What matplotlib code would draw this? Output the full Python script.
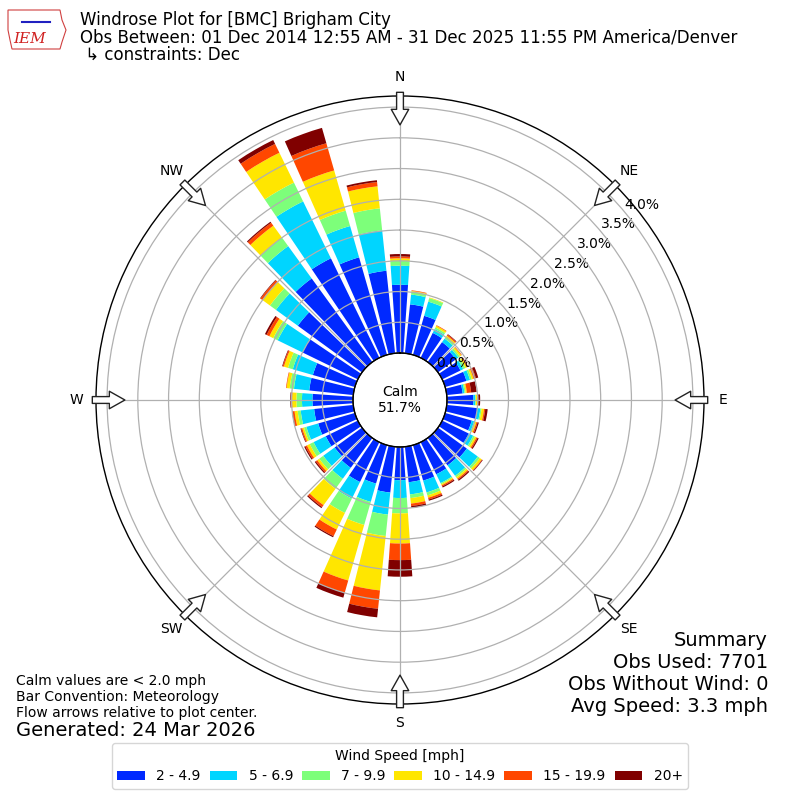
import numpy as np
import matplotlib
matplotlib.use("Agg")
import matplotlib.pyplot as plt
from matplotlib.patches import Patch, Polygon

# ---- data (percent of observations, per direction bin of 10 degrees) ----
directions = np.arange(0, 360, 10)
speed_labels = ["2 - 4.9", "5 - 6.9", "7 - 9.9", "10 - 14.9", "15 - 19.9", "20+"]
pct_2_5 = [1.11, 0.80, 0.66, 0.45, 0.40, 0.36, 0.33, 0.36, 0.26, 0.43, 0.50, 0.45,
           0.48, 0.58, 0.55, 0.58, 0.60, 0.58, 0.54, 0.75, 0.65, 0.72, 0.60, 0.55,
           0.58, 0.62, 0.64, 0.66, 0.72, 0.71, 1.00, 1.29, 1.68, 1.80, 1.65, 1.35]
pct_5_7 = [0.31, 0.16, 0.24, 0.07, 0.07, 0.05, 0.05, 0.06, 0.03, 0.03, 0.05, 0.04,
           0.08, 0.22, 0.21, 0.16, 0.20, 0.20, 0.29, 0.36, 0.31, 0.30, 0.22, 0.23,
           0.22, 0.20, 0.22, 0.17, 0.25, 0.34, 0.45, 0.44, 0.65, 1.03, 0.53, 0.66]
pct_7_10 = [0.08, 0.05, 0.06, 0.03, 0.03, 0.03, 0.04, 0.03, 0.02, 0.01, 0.02, 0.02,
            0.03, 0.04, 0.03, 0.02, 0.05, 0.06, 0.25, 0.35, 0.39, 0.26, 0.20, 0.08,
            0.07, 0.04, 0.05, 0.09, 0.07, 0.08, 0.08, 0.12, 0.17, 0.34, 0.26, 0.36]
pct_10_15 = [0.04, 0.01, 0.01, 0.03, 0.03, 0.03, 0.03, 0.03, 0.02, 0.02, 0.04, 0.02,
             0.03, 0.04, 0.03, 0.02, 0.04, 0.09, 0.49, 0.89, 0.94, 0.30, 0.33, 0.04,
             0.05, 0.03, 0.05, 0.07, 0.05, 0.07, 0.07, 0.15, 0.24, 0.54, 0.68, 0.36]
pct_15_20 = [0.03, 0.01, 0.00, 0.01, 0.02, 0.01, 0.01, 0.04, 0.07, 0.02, 0.02, 0.02,
             0.02, 0.01, 0.02, 0.02, 0.03, 0.04, 0.27, 0.30, 0.21, 0.12, 0.04, 0.03,
             0.03, 0.02, 0.03, 0.02, 0.01, 0.02, 0.05, 0.04, 0.06, 0.16, 0.46, 0.07]
pct_20p = [0.04, 0.00, 0.00, 0.00, 0.01, 0.00, 0.01, 0.04, 0.09, 0.03, 0.04, 0.02,
           0.02, 0.01, 0.02, 0.02, 0.02, 0.03, 0.27, 0.14, 0.08, 0.02, 0.02, 0.02,
           0.02, 0.01, 0.01, 0.01, 0.00, 0.01, 0.03, 0.01, 0.02, 0.07, 0.26, 0.03]
calm_pct = 51.7
rticks = [0.0, 0.5, 1.0, 1.5, 2.0, 2.5, 3.0, 3.5, 4.0]
compass = ["N", "NE", "E", "SE", "S", "SW", "W", "NW"]

series = [pct_2_5, pct_5_7, pct_7_10, pct_10_15, pct_15_20, pct_20p]
colors = plt.cm.jet(np.arange(1, 7) / 6.0)

fig = plt.figure(figsize=(8, 8), dpi=100)
ax = fig.add_axes([0.12, 0.12, 0.76, 0.76], projection="polar")
ax.set_theta_zero_location("N")
ax.set_theta_direction(-1)

rmax = 4.18
ax.set_rorigin(-0.764)
ax.set_ylim(0, rmax)

theta = np.deg2rad(directions)
width = np.deg2rad(10) * 0.8
bottom = np.zeros(len(directions))
for vals, col in zip(series, colors):
    v = np.array(vals)
    ax.bar(theta, v, width=width, bottom=bottom, color=col, edgecolor="none",
           align="center", zorder=1)
    bottom = bottom + v

ax.set_thetagrids(np.arange(0, 360, 45), compass, fontsize=10)
ax.set_rgrids(rticks, labels=[f"{t:.1f}%" for t in rticks], angle=50, fontsize=10)
ax.grid(True, color="#b0b0b0", lw=0.9)
ax.spines["polar"].set_color("black")
ax.spines["polar"].set_linewidth(1.0)

# calm circle
tt = np.linspace(0, 2 * np.pi, 361)
ax.plot(tt, np.zeros_like(tt), color="black", lw=1.0, zorder=5, clip_on=False)
ax.text(0, -0.764, f"Calm\n{calm_pct:.1f}%", ha="center", va="center", fontsize=10, zorder=6)

# flow arrows
for ang in np.arange(0, 360, 45):
    th = np.deg2rad(ang)
    ax.annotate("", xy=(th, 3.71), xytext=(th, 4.24), xycoords="data",
                arrowprops=dict(arrowstyle="simple,head_length=0.8,head_width=0.9,tail_width=0.35",
                                fc="white", ec="#222222", lw=1.0, shrinkA=0, shrinkB=0,
                                mutation_scale=14),
                annotation_clip=False, zorder=7)

# titles
fig.text(0.1, 1 - 20 / 800, "Windrose Plot for [BMC] Brigham City", fontsize=12, va="center")
fig.text(0.1, 1 - 38 / 800,
         "Obs Between: 01 Dec 2014 12:55 AM - 31 Dec 2025 11:55 PM America/Denver",
         fontsize=12, va="center")
fig.text(0.1, 1 - 55 / 800, " \u21b3 constraints: Dec", fontsize=12, va="center")

# logo (simplified)
logo_x = np.array([8, 60, 62, 66, 62, 60, 12, 10, 8, 8]) / 800
logo_y = 1 - np.array([10, 10, 20, 30, 42, 49, 49, 40, 30, 10]) / 800
fig.add_artist(Polygon(np.column_stack([logo_x, logo_y]), closed=True, fill=False,
                       ec="#d04040", lw=0.8, transform=fig.transFigure))
fig.text(30 / 800, 1 - 39 / 800, "IEM", color="#d02020", fontsize=11, family="DejaVu Serif",
         style="italic", ha="center", va="center")
fig.add_artist(plt.Line2D([22 / 800, 50 / 800], [1 - 22 / 800, 1 - 22 / 800],
                          color="#2020c0", lw=1.5, transform=fig.transFigure))

# bottom-left notes
fig.text(16 / 800, 1 - 681 / 800, "Calm values are < 2.0 mph", fontsize=10, va="center")
fig.text(16 / 800, 1 - 697 / 800, "Bar Convention: Meteorology", fontsize=10, va="center")
fig.text(16 / 800, 1 - 713 / 800, "Flow arrows relative to plot center.", fontsize=10, va="center")
fig.text(16 / 800, 1 - 730 / 800, "Generated: 24 Mar 2026", fontsize=14, va="center")

# summary
fig.text(768 / 800, 1 - 640 / 800, "Summary", fontsize=14, ha="right", va="center")
fig.text(768 / 800, 1 - 662 / 800, "Obs Used: 7701", fontsize=14, ha="right", va="center")
fig.text(768 / 800, 1 - 684 / 800, "Obs Without Wind: 0", fontsize=14, ha="right", va="center")
fig.text(768 / 800, 1 - 706 / 800, "Avg Speed: 3.3 mph", fontsize=14, ha="right", va="center")

handles = [Patch(facecolor=c, edgecolor="none") for c in colors]
fig.legend(handles, speed_labels, loc="center", bbox_to_anchor=(0.5, 1 - 766 / 800),
           ncol=6, title="Wind Speed [mph]", fontsize=10, title_fontsize=10,
           handlelength=2.0, columnspacing=0.65)

fig.savefig("out.png", dpi=100)
